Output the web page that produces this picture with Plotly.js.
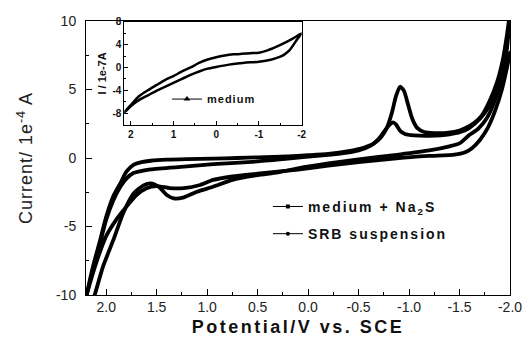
<!DOCTYPE html>
<html>
<head>
<meta charset="utf-8">
<script src="https://cdn.plot.ly/plotly-3.0.1.min.js"></script>
<style>html,body{margin:0;padding:0;background:#fff;}#chart{width:525px;height:345px;}</style>
</head>
<body>
<div id="chart"></div>
<script>
// ---- main chart: medium + Na2S (cathodic branch left->right, then anodic branch right->left)
const naX = [2.205, 2.19, 2.13, 2.06, 2.0, 1.93, 1.86, 1.8, 1.73, 1.65, 1.56, 1.4, 1.2, 0.94, 0.7, 0.5, 0.2, 0.0, -0.2, -0.4, -0.55, -0.65, -0.72, -0.78, -0.83, -0.87, -0.91, -0.95, -0.99, -1.03, -1.08, -1.15, -1.25, -1.35, -1.45, -1.55, -1.65, -1.72, -1.8, -1.87, -1.93, -1.97, -2.0,
             -1.97, -1.92, -1.85, -1.77, -1.68, -1.6, -1.5, -1.4, -1.2, -0.9, -0.5, -0.2, 0.1, 0.3, 0.5, 0.75, 0.94, 1.1, 1.23, 1.33, 1.4, 1.48, 1.56, 1.63, 1.73, 1.83, 1.93, 2.03, 2.11, 2.14];
const naY = [-10.6, -9.9, -7.9, -6.0, -4.3, -2.8, -1.85, -1.0, -0.5, -0.3, -0.2, -0.12, -0.08, -0.05, 0.0, 0.05, 0.12, 0.2, 0.3, 0.5, 0.75, 1.05, 1.5, 2.2, 3.3, 4.5, 5.2, 4.9, 3.9, 2.9, 2.2, 1.9, 1.82, 1.82, 1.9, 2.15, 2.6, 3.1, 4.2, 5.5, 7.2, 9.0, 10.6,
             8.0, 6.0, 4.2, 2.9, 2.1, 1.7, 1.07, 0.85, 0.55, 0.25, -0.1, -0.4, -0.75, -1.05, -1.25, -1.6, -2.1, -2.46, -2.87, -2.95, -2.7, -2.1, -1.85, -2.0, -2.6, -4.0, -6.0, -7.9, -9.9, -10.6];
// ---- main chart: SRB suspension
const srbX = [2.21, 2.18, 2.13, 2.06, 2.0, 1.93, 1.86, 1.8, 1.73, 1.56, 1.23, 0.94, 0.5, 0.2, 0.0, -0.3, -0.5, -0.62, -0.7, -0.76, -0.81, -0.84, -0.87, -0.91, -0.96, -1.05, -1.2, -1.4, -1.55, -1.65, -1.75, -1.85, -1.92, -1.97, -2.0,
              -1.97, -1.92, -1.85, -1.78, -1.7, -1.62, -1.55, -1.45, -1.2, -0.9, -0.5, -0.2, 0.1, 0.3, 0.5, 0.75, 0.94, 1.07, 1.23, 1.37, 1.5, 1.6, 1.7, 1.8, 1.9, 2.0, 2.09, 2.19, 2.21];
const srbY = [-10.5, -9.6, -8.2, -6.2, -4.5, -3.1, -2.1, -1.5, -1.1, -0.83, -0.63, -0.45, -0.25, -0.05, 0.1, 0.3, 0.55, 0.9, 1.4, 2.0, 2.45, 2.6, 2.45, 2.0, 1.75, 1.65, 1.62, 1.72, 2.0, 2.5, 3.3, 4.6, 6.0, 7.0, 7.7,
              6.6, 5.0, 3.4, 2.2, 1.3, 0.7, 0.4, 0.25, 0.15, 0.0, -0.3, -0.55, -0.85, -1.0, -1.15, -1.35, -1.6, -1.97, -2.2, -2.2, -2.05, -2.2, -2.7, -3.55, -4.5, -5.7, -7.45, -9.9, -10.5];
// ---- inset: medium
const medX = [2.15, 2.0, 1.8, 1.6, 1.4, 1.2, 1.0, 0.8, 0.6, 0.4, 0.2, 0.0, -0.2, -0.4, -0.6, -0.8, -1.0, -1.2, -1.4, -1.6, -1.8, -2.0,
              -1.9, -1.8, -1.7, -1.6, -1.5, -1.3, -1.0, -0.8, -0.5, -0.3, 0.0, 0.2, 0.4, 0.6, 0.8, 1.0, 1.2, 1.4, 1.6, 1.8, 2.0, 2.15];
const medY = [-7.9, -6.6, -5.0, -4.0, -3.1, -2.2, -1.5, -0.7, 0.0, 0.8, 1.4, 1.8, 2.1, 2.3, 2.4, 2.5, 2.6, 3.0, 3.6, 4.3, 5.1, 6.0,
              5.0, 3.9, 2.9, 2.3, 1.9, 1.4, 1.0, 0.9, 0.7, 0.5, 0.1, -0.2, -0.7, -1.3, -2.0, -2.7, -3.4, -4.1, -4.9, -5.7, -6.8, -7.9];

// ---- tick labels
const xTickVals = [2.0, 1.5, 1.0, 0.5, 0.0, -0.5, -1.0, -1.5, -2.0];
const xTickText = ['2.0', '1.5', '1.0', '0.5', '0.0', '-0.5', '-1.0', '-1.5', '-2.0'];
const yTickVals = [-10, -5, 0, 5, 10];
const yTickText = ['-10', '-5', '0', '5', '10'];
const inXTickVals = [2, 1, 0, -1, -2];
const inXTickText = ['2', '1', '0', '-1', '-2'];
const inYTickVals = [8, 4, 0, -4, -8];
const inYTickText = ['8', '4', '0', '-4', '-8'];

const FONT = 'Liberation Sans, Arial, sans-serif';
const curveLine = {color: '#000', width: 3.8, shape: 'spline', smoothing: 0.6};
const sp = (t, px) => '<span style="letter-spacing:' + px + 'px">' + t + '</span>';

const traces = [
  {x: naX, y: naY, mode: 'lines', line: curveLine, showlegend: false, hoverinfo: 'skip'},
  {x: srbX, y: srbY, mode: 'lines', line: curveLine, showlegend: false, hoverinfo: 'skip'},
  {x: [null], y: [null], mode: 'lines+markers', name: sp('<b>medium + Na<sub>2</sub>S</b>', 2), legendgroup: 'a',
   line: {color: '#000', width: 1}, marker: {symbol: 'square', size: 4, color: '#000'}},
  {x: [null], y: [null], mode: 'lines+markers', name: sp('<b>SRB suspension</b>', 2), legendgroup: 'b',
   line: {color: '#000', width: 1}, marker: {symbol: 'circle', size: 4, color: '#000'}},
  {x: medX, y: medY, xaxis: 'x2', yaxis: 'y2', mode: 'lines', showlegend: false, hoverinfo: 'skip',
   line: {color: '#000', width: 2.5, shape: 'spline', smoothing: 0.6}},
  {x: [null], y: [null], xaxis: 'x2', yaxis: 'y2', mode: 'lines+markers', name: sp('<b>medium</b>', 1), legend: 'legend2',
   line: {color: '#000', width: 1}, marker: {symbol: 'triangle-up', size: 6, color: '#000'}}
];

const layout = {
  width: 525, height: 345,
  margin: {l: 86, r: 15, t: 21, b: 50},
  paper_bgcolor: '#fff', plot_bgcolor: '#fff',
  font: {family: FONT, color: '#222'},
  xaxis: {
    range: [2.2, -2.0], tickmode: 'array', tickvals: xTickVals, ticktext: xTickText,
    ticks: 'inside', ticklen: 6, tickwidth: 1, tickcolor: '#000', ticklabelstandoff: -1,
    minor: {tickmode: 'linear', tick0: 0, dtick: 0.25, ticks: 'inside', ticklen: 3, tickcolor: '#000'},
    showline: true, mirror: true, linecolor: '#000', linewidth: 1,
    showgrid: false, zeroline: false,
    tickfont: {family: FONT, size: 14, color: '#222'},
    title: {text: sp('<b>Potential/V vs. SCE</b>', 2.5), font: {family: FONT, size: 18, color: '#111'}, standoff: 6}
  },
  yaxis: {
    range: [-10, 10], tickmode: 'array', tickvals: yTickVals, ticktext: yTickText,
    ticks: 'inside', ticklen: 6, tickwidth: 1, tickcolor: '#000', ticklabelstandoff: 6,
    minor: {tickmode: 'linear', tick0: 0, dtick: 2.5, ticks: 'inside', ticklen: 3, tickcolor: '#000'},
    showline: true, mirror: true, linecolor: '#000', linewidth: 1,
    showgrid: false, zeroline: false,
    tickfont: {family: FONT, size: 14, color: '#222'},
    title: {text: sp('Current/ 1e<sup>-4</sup> A', 1), font: {family: FONT, size: 18, color: '#222'}, standoff: 18}
  },
  xaxis2: {
    domain: [0.0903, 0.5087], anchor: 'y2', range: [2.15, -2.0],
    tickmode: 'array', tickvals: inXTickVals, ticktext: inXTickText,
    ticks: 'inside', ticklen: 4, tickcolor: '#000',
    minor: {tickmode: 'linear', tick0: 0, dtick: 0.5, ticks: 'inside', ticklen: 2, tickcolor: '#000'},
    showline: true, mirror: true, linecolor: '#000', linewidth: 1,
    showgrid: false, zeroline: false,
    tickfont: {family: FONT, size: 10, color: '#111', weight: 'bold'}
  },
  yaxis2: {
    domain: [0.620, 0.997], anchor: 'x2', range: [-10.1, 8],
    tickmode: 'array', tickvals: inYTickVals, ticktext: inYTickText,
    ticks: 'inside', ticklen: 4, tickcolor: '#000',
    minor: {tickmode: 'linear', tick0: 0, dtick: 2, ticks: 'inside', ticklen: 2, tickcolor: '#000'},
    showline: true, mirror: true, linecolor: '#000', linewidth: 1,
    showgrid: false, zeroline: false,
    tickfont: {family: FONT, size: 10, color: '#111', weight: 'bold'},
    title: {text: '<b>I / 1e-7A</b>', font: {family: FONT, size: 11, color: '#111'}, standoff: 3}
  },
  legend: {
    x: 0.429, y: 0.38, xanchor: 'left', yanchor: 'top',
    bgcolor: 'rgba(0,0,0,0)', borderwidth: 0, tracegroupgap: 6,
    font: {family: FONT, size: 14, color: '#111'}
  },
  legend2: {
    x: 0.191, y: 0.768, xanchor: 'left', yanchor: 'top',
    bgcolor: 'rgba(0,0,0,0)', borderwidth: 0,
    font: {family: FONT, size: 11, color: '#111'}
  },
  showlegend: true
};

Plotly.newPlot('chart', traces, layout, {staticPlot: true, displayModeBar: false});
</script>
</body>
</html>
